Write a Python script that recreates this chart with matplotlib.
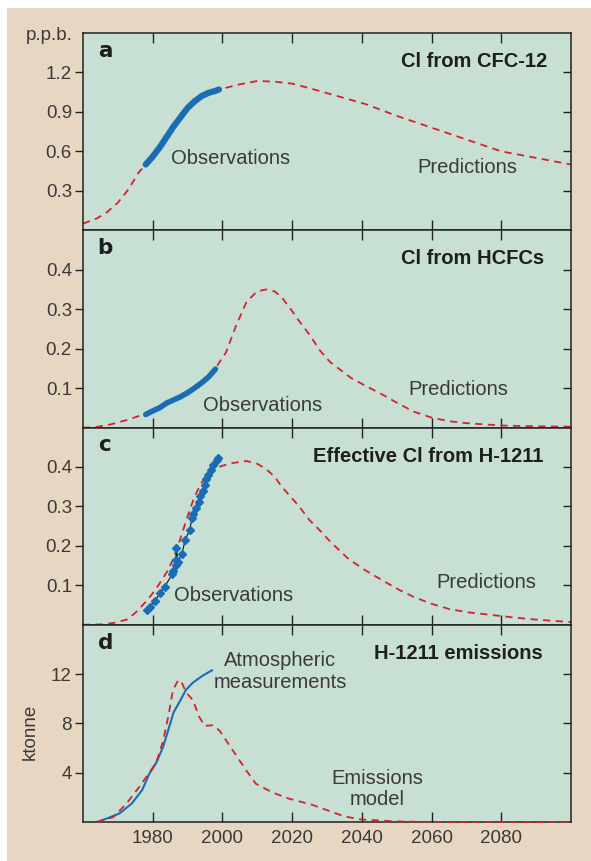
import numpy as np
from matplotlib import pyplot as plt
from matplotlib.patches import Rectangle

##########################################################################
# data
##########################################################################

# a : Cl from CFC-12 (p.p.b.)
cfc_pred_yr = [1960, 1964, 1967, 1970, 1973, 1976, 1978, 1980, 1985, 1990, 1995, 1999,
               2005, 2010, 2015, 2020, 2025, 2031, 2041, 2050, 2060, 2070, 2080, 2090, 2100]
cfc_pred = [0.05, 0.09, 0.14, 0.21, 0.31, 0.44, 0.50, 0.57, 0.76, 0.92, 1.03, 1.07,
            1.11, 1.135, 1.13, 1.115, 1.08, 1.035, 0.96, 0.87, 0.78, 0.69, 0.60, 0.55, 0.50]
cfc_obs_yr = [1978, 1980, 1982, 1984, 1986, 1988, 1990, 1992, 1994, 1996, 1998, 1999]
cfc_obs = [0.50, 0.56, 0.63, 0.71, 0.79, 0.86, 0.93, 0.98, 1.02, 1.045, 1.06, 1.07]

# b : Cl from HCFCs
hcfc_pred_yr = [1960, 1963, 1968, 1973, 1978, 1982, 1986, 1990, 1994, 1998, 2001, 2004, 2007,
                2010, 2012.5, 2015, 2017, 2020, 2022, 2025, 2028, 2031, 2034, 2037, 2041,
                2046, 2051, 2055, 2060, 2065, 2070, 2080, 2090, 2100]
hcfc_pred = [0.0, 0.0, 0.008, 0.02, 0.035, 0.05, 0.07, 0.09, 0.115, 0.15, 0.19, 0.26, 0.32,
             0.345, 0.35, 0.345, 0.33, 0.295, 0.27, 0.235, 0.195, 0.165, 0.145, 0.125, 0.106,
             0.083, 0.058, 0.04, 0.025, 0.016, 0.011, 0.005, 0.003, 0.002]
hcfc_obs_yr = [1978, 1980, 1982, 1984, 1986, 1988, 1990, 1992, 1994, 1996, 1998]
hcfc_obs = [0.033, 0.042, 0.05, 0.062, 0.07, 0.078, 0.088, 0.10, 0.113, 0.128, 0.148]

# c : Effective Cl from H-1211
h1211_pred_yr = [1960, 1966, 1969, 1972.5, 1975, 1978, 1980, 1982, 1984, 1986, 1988, 1990,
                 1992, 1994, 1996, 1998, 2000, 2003, 2007, 2010, 2012.5, 2015, 2017, 2020,
                 2022, 2025, 2027, 2031, 2036, 2041, 2046, 2051, 2055, 2060, 2065, 2070,
                 2075, 2084, 2090, 2098, 2100]
h1211_pred = [0.0, 0.001, 0.005, 0.013, 0.03, 0.058, 0.08, 0.105, 0.133, 0.168, 0.22, 0.275,
              0.325, 0.36, 0.385, 0.397, 0.403, 0.41, 0.415, 0.408, 0.395, 0.375, 0.35, 0.32,
              0.30, 0.265, 0.248, 0.21, 0.168, 0.138, 0.112, 0.087, 0.07, 0.053, 0.04, 0.032,
              0.027, 0.018, 0.013, 0.008, 0.007]
h1211_obs_yr = [1978.4, 1979.1, 1980.6, 1982.2, 1983.4, 1985.6, 1985.8, 1986.8, 1986.6,
                1986.8, 1987.2, 1988.4, 1989.3, 1990.6, 1991.3, 1991.6, 1992.3, 1993.3,
                1993.7, 1994.4, 1994.9, 1995.3, 1996.0, 1996.8, 1997.4, 1998.4, 1998.7]
h1211_obs = [0.038, 0.045, 0.06, 0.081, 0.096, 0.128, 0.135, 0.151, 0.163, 0.194, 0.16,
             0.18, 0.215, 0.24, 0.271, 0.28, 0.295, 0.31, 0.327, 0.34, 0.355, 0.37, 0.38,
             0.393, 0.405, 0.418, 0.422]

# d : H-1211 emissions (ktonne)
atm_yr = [1964, 1967, 1970.5, 1974, 1977, 1979, 1981, 1983, 1984.5, 1986, 1988, 1989.5,
          1991.5, 1994.5, 1997]
atm = [0.0, 0.3, 0.7, 1.5, 2.6, 3.9, 4.8, 6.1, 7.5, 8.9, 9.9, 10.7, 11.3, 11.9, 12.3]
emis_yr = [1964, 1966, 1968.7, 1972.5, 1976.3, 1979, 1981, 1983, 1984.5, 1985.8, 1987.3,
           1988.2, 1989.6, 1991.5, 1993.4, 1994.9, 1997.3, 1999.2, 2003, 2006.8, 2009.6,
           2014.3, 2019, 2025.7, 2035, 2040, 2050, 2060, 2100]
emis = [0.0, 0.15, 0.4, 1.5, 2.9, 4.0, 4.8, 6.6, 8.6, 10.7, 11.5, 11.4, 10.5, 9.9, 8.5, 7.8,
        7.85, 7.4, 5.8, 4.2, 3.1, 2.4, 1.9, 1.4, 0.45, 0.2, 0.05, 0.0, 0.0]

x_ticks = [1980, 2000, 2020, 2040, 2060, 2080]

##########################################################################
# styling
##########################################################################

plt.rcParams['font.family'] = ['Liberation Sans', 'DejaVu Sans']
tan = '#E7D7C2'
green = '#C8DFD3'
red = '#D2232E'
blue = '#1B6DB3'
txt = '#3a3a3a'

fig = plt.figure(figsize=(5.91, 8.61), dpi=100)
fig.patch.set_facecolor('white')
fig.patches.append(Rectangle((7 / 591, 0), 1 - 7 / 591, 1 - 8 / 861,
                             transform=fig.transFigure, facecolor=tan, edgecolor='none', zorder=-10))

left, width = 83 / 591, 488 / 591
h = 197.25 / 861
bottom0 = 39 / 861

panels = []
for i in range(4):
    ax = fig.add_axes([left, bottom0 + (3 - i) * h, width, h])
    ax.set_facecolor(green)
    ax.set_xlim(1960, 2100)
    ax.set_xticks(x_ticks)
    for s in ax.spines.values():
        s.set_color('#222222')
        s.set_linewidth(1.1)
    ax.tick_params(axis='x', direction='in', top=True, bottom=True, length=7,
                   width=1, color='#222222', labelbottom=(i == 3), labelsize=13.5,
                   labelcolor=txt, pad=6)
    ax.tick_params(axis='y', direction='out', left=True, right=False, length=6,
                   width=1, color='#222222', labelsize=13.5, labelcolor=txt, pad=2)
    panels.append(ax)

dash = dict(color=red, ls=(0, (4, 3)), lw=1.3)

def right_ticks(ax, ticks):
    sec = ax.secondary_yaxis('right')
    sec.set_yticks(ticks)
    sec.tick_params(direction='in', length=6, width=1, color='#222222', labelright=False)
    sec.spines['right'].set_visible(False)

def letter(ax, s):
    ax.text(0.03, 0.91, s, transform=ax.transAxes, fontsize=15.5, fontweight='heavy',
            family='DejaVu Sans', color='#1e1e1e', va='center', ha='left')

def title(ax, s, x):
    ax.text(x, 0.855, s, transform=ax.transAxes, fontsize=14.5, fontweight='bold',
            color='#1e1e1e', va='center', ha='right')

def label(ax, x, y, s, ha='center'):
    ax.text(x, y, s, fontsize=14.5, color=txt, ha=ha, va='center', linespacing=1.15)

# a
ax = panels[0]
ax.plot(cfc_pred_yr, cfc_pred, **dash)
ax.plot(cfc_obs_yr, cfc_obs, color=blue, lw=4.5, solid_capstyle='round')
ax.set_ylim(0, 1.5)
ax.set_yticks([0.3, 0.6, 0.9, 1.2])
right_ticks(ax, [0.3, 0.6, 0.9, 1.2])
letter(ax, 'a')
title(ax, 'Cl from CFC-12', 0.951)
label(ax, 2002.3, 0.545, 'Observations')
label(ax, 2070.3, 0.475, 'Predictions')

# b
ax = panels[1]
ax.plot(hcfc_pred_yr, hcfc_pred, **dash)
ax.plot(hcfc_obs_yr, hcfc_obs, color=blue, lw=4, solid_capstyle='round')
ax.set_ylim(0, 0.5)
ax.set_yticks([0.1, 0.2, 0.3, 0.4])
right_ticks(ax, [0.1, 0.2, 0.3, 0.4])
letter(ax, 'b')
title(ax, 'Cl from HCFCs', 0.945)
label(ax, 2011.4, 0.055, 'Observations')
label(ax, 2067.7, 0.097, 'Predictions')

# c
ax = panels[2]
ax.plot(h1211_pred_yr, h1211_pred, **dash)
ax.plot(h1211_obs_yr, h1211_obs, color='#111111', lw=0.8, marker='D', ms=4,
        mfc=blue, mec=blue)
ax.set_ylim(0, 0.5)
ax.set_yticks([0.1, 0.2, 0.3, 0.4])
right_ticks(ax, [0.1, 0.2, 0.3, 0.4])
letter(ax, 'c')
title(ax, 'Effective Cl from H-1211', 0.944)
label(ax, 2003.3, 0.073, 'Observations')
label(ax, 2075.7, 0.108, 'Predictions')

# d
ax = panels[3]
ax.plot(emis_yr, emis, clip_on=False, zorder=5, **dash)
ax.plot(atm_yr, atm, color=blue, lw=1.5)
ax.set_ylim(0, 16)
ax.set_yticks([4, 8, 12])
right_ticks(ax, [4, 8, 12])
letter(ax, 'd')
title(ax, 'H-1211 emissions', 0.942)
label(ax, 2016.6, 12.2, 'Atmospheric\nmeasurements')
label(ax, 2044.3, 2.7, 'Emissions\nmodel')

fig.text(49 / 591, 1 - 35 / 861, 'p.p.b.', fontsize=13.5, color=txt, ha='center', va='center')
fig.text(30 / 591, 1 - 732 / 861, 'ktonne', fontsize=13.5, color=txt, ha='center',
         va='center', rotation=90)

fig.savefig('out.png', dpi=100)
